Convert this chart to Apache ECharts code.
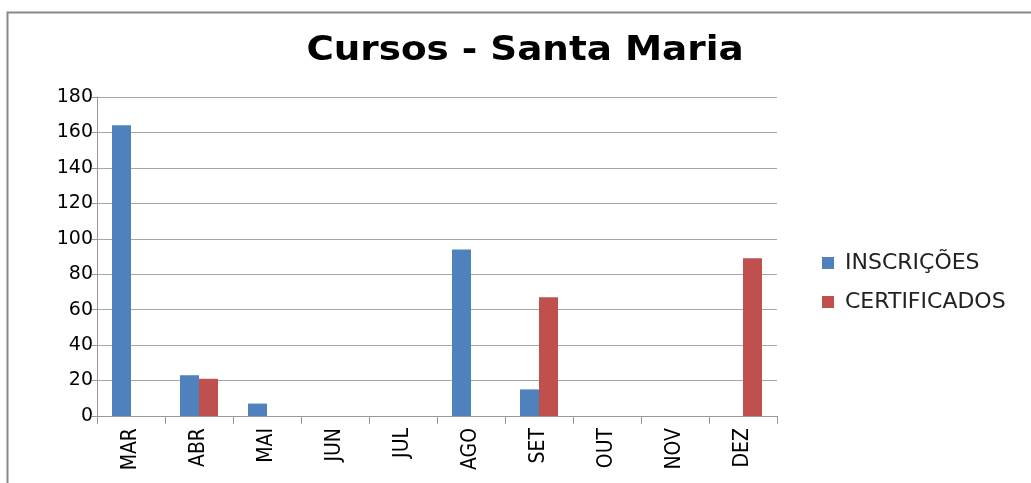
<!DOCTYPE html>
<html><head><meta charset="utf-8">
<script src="https://cdn.jsdelivr.net/npm/echarts@6/dist/echarts.min.js"></script>
<style>html,body{margin:0;padding:0;background:#fff}#c{width:1031px;height:483px}</style>
</head><body><div id="c"></div>
<script>
const categories = ['MAR','ABR','MAI','JUN','JUL','AGO','SET','OUT','NOV','DEZ'];
const inscricoes = [164, 23, 7, 0, 0, 94, 15, 0, 0, 0];
const certificados = [0, 21, 0, 0, 0, 0, 67, 0, 0, 89];
const seriesNames = ['INSCRIÇÕES', 'CERTIFICADOS'];
const titleText = 'Cursos - Santa Maria';

const chart = echarts.init(document.getElementById('c'));
chart.setOption({
  animation: false,
  graphic: [
    {type:'rect', shape:{x:7.5,y:12.5,width:1040,height:480}, style:{fill:'none', stroke:'#888', lineWidth:2}},
    {type:'text', x:525, y:51, scaleX:1.22, style:{text:titleText, fill:'#000', align:'center', verticalAlign:'middle',
      font:'bold 34px "DejaVu Sans Condensed", "Liberation Sans"'}}
  ],
  legend: {orient:'vertical', left:817, top:247, itemWidth:12, itemHeight:12, itemGap:17,
    icon:'rect', textStyle:{fontFamily:'DejaVu Sans', fontSize:22, color:'#222', padding:[0,0,0,6]}, data: seriesNames},
  grid: {left:97, top:97, width:680, height:319, containLabel:false},
  xAxis: {type:'category', data:categories,
    axisLine:{lineStyle:{color:'#999'}},
    axisTick:{show:true, length:8, lineStyle:{color:'#999'}},
    axisLabel:{rotate:90, fontFamily:'"DejaVu Sans Condensed", "Liberation Sans"', fontSize:21, color:'#000', margin:12}},
  yAxis: {type:'value', min:0, max:180, interval:20,
    axisLine:{show:true, lineStyle:{color:'#999'}},
    axisTick:{show:true, length:5, lineStyle:{color:'#999'}},
    splitLine:{lineStyle:{color:'#a6a6a6', width:1}},
    axisLabel:{fontFamily:'DejaVu Sans', fontSize:19, color:'#000', margin:4}},
  series: [
    {name:seriesNames[0], type:'bar', data:inscricoes, barWidth:19, barGap:'0%', itemStyle:{color:'#4f81bd'}},
    {name:seriesNames[1], type:'bar', data:certificados, barWidth:19, barGap:'0%', itemStyle:{color:'#c0504d'}}
  ]
});
</script></body></html>
